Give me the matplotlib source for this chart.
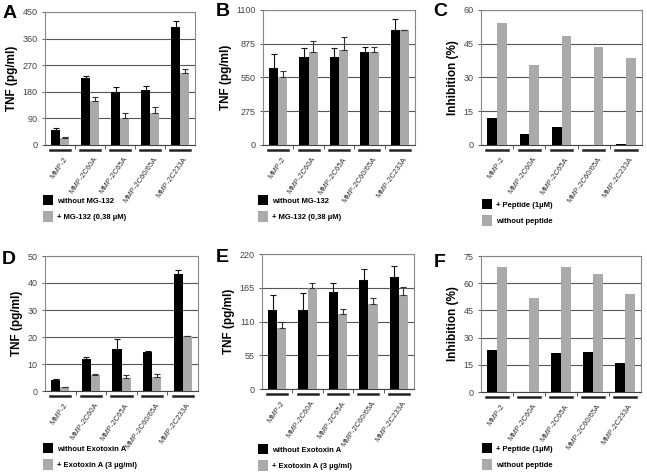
import numpy as np
import matplotlib
matplotlib.use("Agg")
import matplotlib.pyplot as plt
from matplotlib.patches import Patch

plt.rcParams['font.family'] = ['Liberation Sans', 'DejaVu Sans']

groups = ['MMP-2', 'MMP-2C60A', 'MMP-2C65A', 'MMP-2C60/65A', 'MMP-2C233A']

# panel A
a_black = [52, 225, 180, 186, 398]
a_black_err = [5, 8, 15, 12, 22]
a_gray = [22, 148, 92, 107, 245]
a_gray_err = [4, 16, 15, 20, 12]
# panel B (the "875" line actually sits at 825 in the original)
b_black = [624, 714, 714, 756, 936]
b_black_err = [114, 73, 73, 39, 88]
b_gray = [556, 756, 775, 760, 936]
b_gray_err = [51, 95, 102, 35, 0]
b_tick_pos = [0, 275, 550, 825, 1100]
b_tick_lab = ['0', '275', '550', '875', '1100']
# panel C
c_black = [12, 5, 8, 0, 0.3]
c_gray = [54, 35.5, 48.5, 43.5, 38.5]
# panel D
d_black = [4.2, 12, 15.5, 14.3, 43.3]
d_black_err = [0.3, 0.7, 3.7, 0.5, 1.7]
d_gray = [1.3, 6, 5, 5.2, 20.2]
d_gray_err = [0.2, 0.3, 1.0, 1.0, 0.3]
# panel E
e_black = [128, 128, 158, 178, 182]
e_black_err = [25, 28, 15, 18, 18]
e_gray = [100, 165, 123, 139, 153]
e_gray_err = [10, 7, 8, 10, 13]
# panel F
f_black = [23, 0, 21.5, 22, 16]
f_gray = [69, 52, 69, 65, 54]

BLACK = '#000000'
GRAY = '#aaaaaa'

fig = plt.figure(figsize=(6.47, 4.73), dpi=100)


def panel(rect, letter, letter_xy, ylabel, ymax, yticks, blk, gry, blk_err=None, gry_err=None,
          leg_labels=None, leg_xy=None, ytick_labels=None):
    ax = fig.add_axes(rect)
    x = np.arange(len(groups))
    w = 0.3
    ax.bar(x - w / 2, blk, w, color=BLACK, zorder=3)
    ax.bar(x + w / 2, gry, w, color=GRAY, zorder=3)
    if blk_err is not None:
        ax.errorbar(x - w / 2, blk, yerr=[np.zeros(len(blk)), blk_err], fmt='none',
                    ecolor='#111111', elinewidth=0.8, capsize=2, capthick=0.8, zorder=4)
        ax.errorbar(x + w / 2, gry, yerr=[np.zeros(len(gry)), gry_err], fmt='none',
                    ecolor='#333333', elinewidth=0.8, capsize=2, capthick=0.8, zorder=4)
    ax.set_xlim(-0.5, len(groups) - 0.5)
    ax.set_ylim(0, ymax)
    ax.set_yticks(yticks)
    if ytick_labels is not None:
        ax.set_yticklabels(ytick_labels)
    ax.tick_params(axis='y', labelsize=6.5, colors='#444444', length=2, width=0.6)
    ax.yaxis.grid(True, color='#555555', linewidth=0.8, zorder=0)
    for s in ax.spines.values():
        s.set_color('#888888')
        s.set_linewidth(0.8)
    ax.spines['bottom'].set_color('#444444')
    # ticks between groups
    ax.set_xticks(np.arange(0.5, len(groups) - 0.5, 1.0))
    ax.set_xticklabels([])
    ax.tick_params(axis='x', length=3, width=0.6, colors='#444444')
    # underline under each group and labels
    trans = ax.get_xaxis_transform()
    for i, g in enumerate(groups):
        ax.plot([i - 0.33, i + 0.33], [-0.035, -0.035], transform=trans, color='#222222',
                linewidth=1.8, clip_on=False)
        ax.text(i + 0.1, -0.08, g, transform=trans, rotation=55, ha='right', va='top',
                fontsize=5.5, color='#333333', rotation_mode='anchor')
    ax.set_ylabel(ylabel, fontsize=8.5, fontweight='bold', labelpad=3)
    fig.text(letter_xy[0] / 647, 1 - letter_xy[1] / 473, letter, fontsize=14,
             fontweight='bold', ha='center', va='center')
    handles = [Patch(facecolor=BLACK, edgecolor='none'), Patch(facecolor=GRAY, edgecolor='none')]
    fig.legend(handles, leg_labels, loc='upper left',
               bbox_to_anchor=(leg_xy[0] / 647, 1 - leg_xy[1] / 473),
               frameon=False, handlelength=1.3, handleheight=1.7, handletextpad=0.5,
               labelspacing=0.8, borderaxespad=0, borderpad=0,
               prop={'size': 5.5, 'weight': 'bold'})
    return ax


mg_labels = ['without MG-132', '+ MG-132 (0,38 µM)']
pep_labels = ['+ Peptide (1µM)', 'without peptide']
exo_labels = ['without Exotoxin A', '+ Exotoxin A (3 µg/ml)']

panel([45 / 647, 1 - 145 / 473, 150 / 647, 133 / 473], 'A', (10, 14), 'TNF (pg/ml)',
      450, [0, 90, 180, 270, 360, 450], a_black, a_gray, a_black_err, a_gray_err,
      mg_labels, (43, 195))
panel([263 / 647, 1 - 145 / 473, 152 / 647, 135 / 473], 'B', (223, 12), 'TNF (pg/ml)',
      1100, b_tick_pos, b_black, b_gray, b_black_err, b_gray_err,
      mg_labels, (258, 195), ytick_labels=b_tick_lab)
panel([481 / 647, 1 - 145 / 473, 161 / 647, 135 / 473], 'C', (440, 12), 'Inhibition (%)',
      60, [0, 15, 30, 45, 60], c_black, c_gray, leg_labels=pep_labels, leg_xy=(482, 199))
panel([45 / 647, 1 - 391 / 473, 153 / 647, 135 / 473], 'D', (9, 260), 'TNF (pg/ml)',
      50, [0, 10, 20, 30, 40, 50], d_black, d_gray, d_black_err, d_gray_err,
      exo_labels, (43, 443))
panel([262 / 647, 1 - 389 / 473, 152 / 647, 135 / 473], 'E', (222, 257), 'TNF (pg/ml)',
      220, [0, 55, 110, 165, 220], e_black, e_gray, e_black_err, e_gray_err,
      exo_labels, (258, 444))
panel([481 / 647, 1 - 392 / 473, 160 / 647, 136 / 473], 'F', (440, 262), 'Inhibition (%)',
      75, [0, 15, 30, 45, 60, 75], f_black, f_gray, leg_labels=pep_labels, leg_xy=(482, 443))

fig.savefig('out.png', dpi=100)
